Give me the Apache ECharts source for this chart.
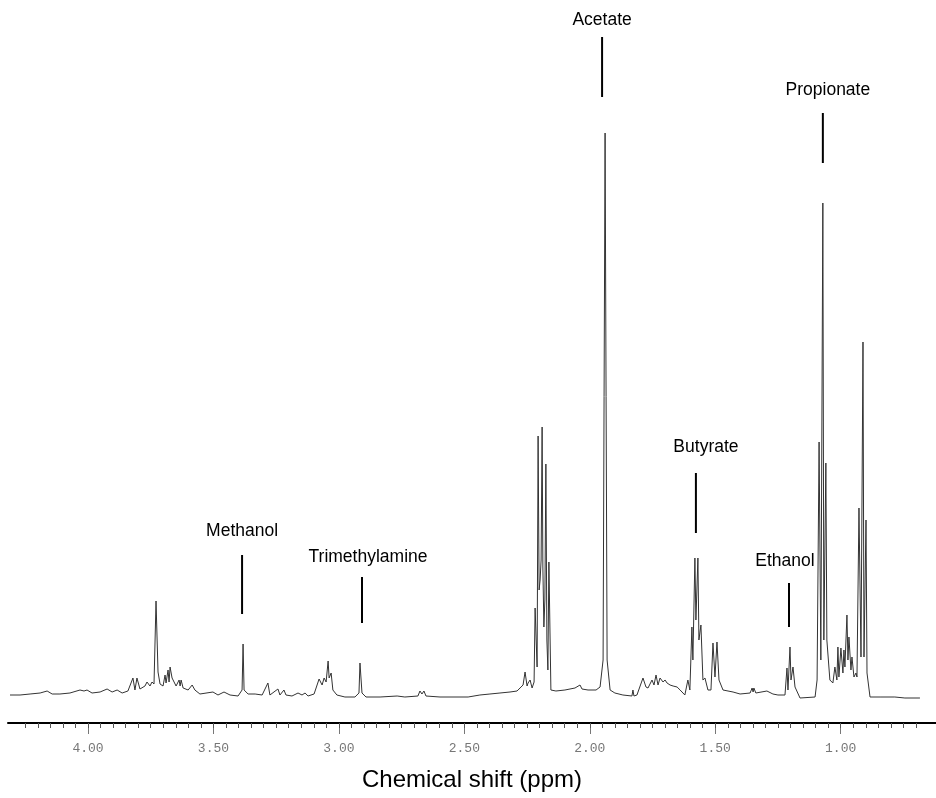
<!doctype html>
<html lang="en">
<head>
    <meta charset="UTF-8">
    <title>NMR spectrum</title>
    <style>
        html, body { margin: 0; padding: 0; background: #fff; }
        #spectrum_chart { width: 936px; height: 798px; }
    </style>
</head>
<body>
<div id="spectrum_chart"></div>
<script src="https://cdn.jsdelivr.net/npm/echarts@6/dist/echarts.min.js"></script>
<script type="text/javascript">
    // chemical shift (ppm) and intensity
    var shift = [4.311, 4.271, 4.231, 4.191, 4.163, 4.143, 4.112, 4.072, 4.032, 4.016, 4.004,
        3.984, 3.952, 3.924, 3.904, 3.884, 3.864, 3.841, 3.821, 3.813, 3.805, 3.793, 3.773, 3.765,
        3.753, 3.745, 3.737, 3.729, 3.721, 3.713, 3.701, 3.693, 3.689, 3.681, 3.677, 3.673, 3.665,
        3.661, 3.649, 3.637, 3.633, 3.629, 3.621, 3.601, 3.585, 3.574, 3.554, 3.502, 3.482, 3.458,
        3.434, 3.402, 3.386, 3.382, 3.378, 3.362, 3.334, 3.306, 3.283, 3.275, 3.243, 3.235, 3.219,
        3.211, 3.187, 3.163, 3.147, 3.135, 3.123, 3.099, 3.091, 3.079, 3.067, 3.059, 3.051, 3.043,
        3.039, 3.031, 3.024, 3.008, 2.976, 2.936, 2.920, 2.916, 2.908, 2.892, 2.836, 2.768, 2.737,
        2.685, 2.677, 2.669, 2.661, 2.653, 2.597, 2.485, 2.438, 2.398, 2.358, 2.318, 2.290, 2.278,
        2.266, 2.258, 2.250, 2.246, 2.238, 2.230, 2.222, 2.218, 2.210, 2.206, 2.202, 2.198, 2.194,
        2.190, 2.187, 2.183, 2.179, 2.175, 2.171, 2.167, 2.163, 2.155, 2.135, 2.099, 2.059, 2.039,
        2.031, 2.027, 2.007, 1.975, 1.959, 1.947, 1.939, 1.931, 1.919, 1.900, 1.868, 1.832, 1.828,
        1.824, 1.812, 1.788, 1.776, 1.768, 1.752, 1.744, 1.736, 1.728, 1.720, 1.708, 1.700, 1.692,
        1.680, 1.668, 1.652, 1.640, 1.621, 1.609, 1.601, 1.593, 1.589, 1.581, 1.577, 1.569, 1.565,
        1.557, 1.549, 1.541, 1.529, 1.517, 1.509, 1.501, 1.493, 1.485, 1.469, 1.429, 1.401, 1.361,
        1.353, 1.349, 1.346, 1.338, 1.294, 1.270, 1.250, 1.222, 1.214, 1.210, 1.202, 1.198, 1.190,
        1.182, 1.162, 1.102, 1.094, 1.086, 1.079, 1.071, 1.067, 1.059, 1.055, 1.043, 1.031, 1.023,
        1.015, 1.011, 1.007, 0.999, 0.991, 0.987, 0.983, 0.975, 0.971, 0.967, 0.959, 0.955, 0.947,
        0.939, 0.935, 0.927, 0.919, 0.911, 0.907, 0.899, 0.895, 0.883, 0.843, 0.784, 0.744, 0.684];
    var intensity = [2, 2, 3, 4, 6, 3, 3, 4, 7, 6, 7,
        4, 5, 8, 5, 7, 4, 6, 19, 7, 19, 8, 11, 15,
        11, 15, 13, 96, 25, 13, 11, 22, 14, 27, 15, 30, 19,
        17, 11, 17, 11, 17, 9, 7, 12, 7, 3, 5, 2, 5,
        2, 1, 7, 53, 7, 3, 3, 2, 14, 2, 8, 2, 7,
        2, 1, 4, 2, 4, 1, 3, 9, 18, 12, 19, 15, 36,
        19, 24, 7, 2, 0, 0, 4, 34, 4, 0, 0, 1, 0,
        1, 6, 3, 6, 1, 0, 0, 2, 3, 4, 5, 6, 9,
        12, 25, 11, 14, 17, 9, 15, 89, 30, 261, 107, 117, 137,
        270, 130, 70, 97, 233, 57, 27, 135, 7, 6, 7, 9, 12,
        8, 10, 7, 7, 10, 37, 564, 37, 7, 4, 2, 1, 7,
        1, 2, 19, 10, 9, 17, 12, 22, 12, 19, 15, 17, 14,
        12, 11, 10, 7, 2, 17, 7, 70, 37, 139, 77, 139, 57,
        72, 17, 19, 7, 7, 54, 20, 55, 17, 7, 5, 3, 4,
        9, 5, 9, 4, 6, 3, 2, 2, 29, 7, 50, 17, 30,
        10, -1, 0, 17, 255, 37, 494, 57, 234, 57, 17, 14, 30,
        17, 50, 20, 49, 24, 47, 30, 82, 37, 60, 27, 40, 20,
        24, 20, 189, 40, 355, 40, 177, 24, 0, 0, 0, -1, -1];

    // x axis labels
    var majorTicks = [4.00, 3.50, 3.00, 2.50, 2.00, 1.50, 1.00];
    var minorTicks = [];
    for (var t = 425; t >= 70; t -= 5) {
        minorTicks.push(t / 100);
    }

    // compound labels: name, ppm of marker, marker top / bottom and text height (intensity units)
    var labelNames = ['Acetate', 'Propionate', 'Butyrate', 'Ethanol', 'Trimethylamine', 'Methanol'];
    var labelShift = [1.951, 1.071, 1.577, 1.206, 2.908, 3.386];
    var textShift = [1.951, 1.051, 1.537, 1.222, 2.884, 3.386];
    var markTop = [660, 584, 224, 114, 120, 142];
    var markBottom = [600, 534, 164, 70, 74, 83];
    var textLevel = [677, 607, 250, 136, 140, 166];

    var spectrum_chart = echarts.init(document.getElementById('spectrum_chart'));

    var points = [];
    for (var i = 0; i < shift.length; i++) {
        points.push([shift[i], intensity[i]]);
    }
    var labels = [];
    for (var j = 0; j < labelNames.length; j++) {
        labels.push([labelShift[j], markTop[j], markBottom[j], textShift[j], textLevel[j], labelNames[j]]);
    }

    var axisRange = { min: 0.62, max: 4.319 };

    var option = {
        animation: false,
        grid: { left: 8, right: 0, top: 0, bottom: 75, outerBoundsMode: 'none', containLabel: false },
        xAxis: [{
            type: 'value',
            inverse: true,
            min: axisRange.min,
            max: axisRange.max,
            name: 'Chemical shift (ppm)',
            nameLocation: 'middle',
            nameGap: 45,
            nameTextStyle: { fontSize: 24, color: '#000', fontFamily: 'Liberation Sans, Arial, sans-serif' },
            axisLine: { onZero: false, lineStyle: { color: '#000', width: 2 } },
            axisTick: { customValues: majorTicks, length: 11, lineStyle: { color: '#777' } },
            axisLabel: {
                customValues: majorTicks,
                margin: 19,
                fontSize: 13,
                color: '#777',
                fontFamily: 'Liberation Mono, Courier New, monospace',
                formatter: function (v) { return v.toFixed(2); }
            },
            splitLine: { show: false }
        }, {
            type: 'value',
            inverse: true,
            min: axisRange.min,
            max: axisRange.max,
            position: 'bottom',
            axisLine: { show: false, onZero: false },
            axisTick: { customValues: minorTicks, length: 5, lineStyle: { color: '#555' } },
            axisLabel: { show: false },
            splitLine: { show: false }
        }],
        yAxis: {
            type: 'value',
            min: -26,
            max: 697,
            show: false,
            splitLine: { show: false }
        },
        series: [{
            name: 'spectrum',
            type: 'line',
            data: points,
            showSymbol: false,
            symbol: 'none',
            lineStyle: { color: '#333', width: 1 },
            silent: true
        }, {
            name: 'labels',
            type: 'custom',
            data: labels,
            silent: true,
            renderItem: function (params, api) {
                var top = api.coord([api.value(0), api.value(1)]);
                var bottom = api.coord([api.value(0), api.value(2)]);
                var text = api.coord([api.value(3), api.value(4)]);
                return {
                    type: 'group',
                    children: [{
                        type: 'line',
                        shape: { x1: top[0], y1: top[1], x2: bottom[0], y2: bottom[1] },
                        style: { stroke: '#000', lineWidth: 2 }
                    }, {
                        type: 'text',
                        style: {
                            text: labelNames[params.dataIndex],
                            x: text[0],
                            y: text[1],
                            align: 'center',
                            verticalAlign: 'middle',
                            font: '17.5px "Liberation Sans", Arial, sans-serif',
                            fill: '#000'
                        }
                    }]
                };
            }
        }]
    };
    spectrum_chart.setOption(option);
</script>
</body>
</html>
